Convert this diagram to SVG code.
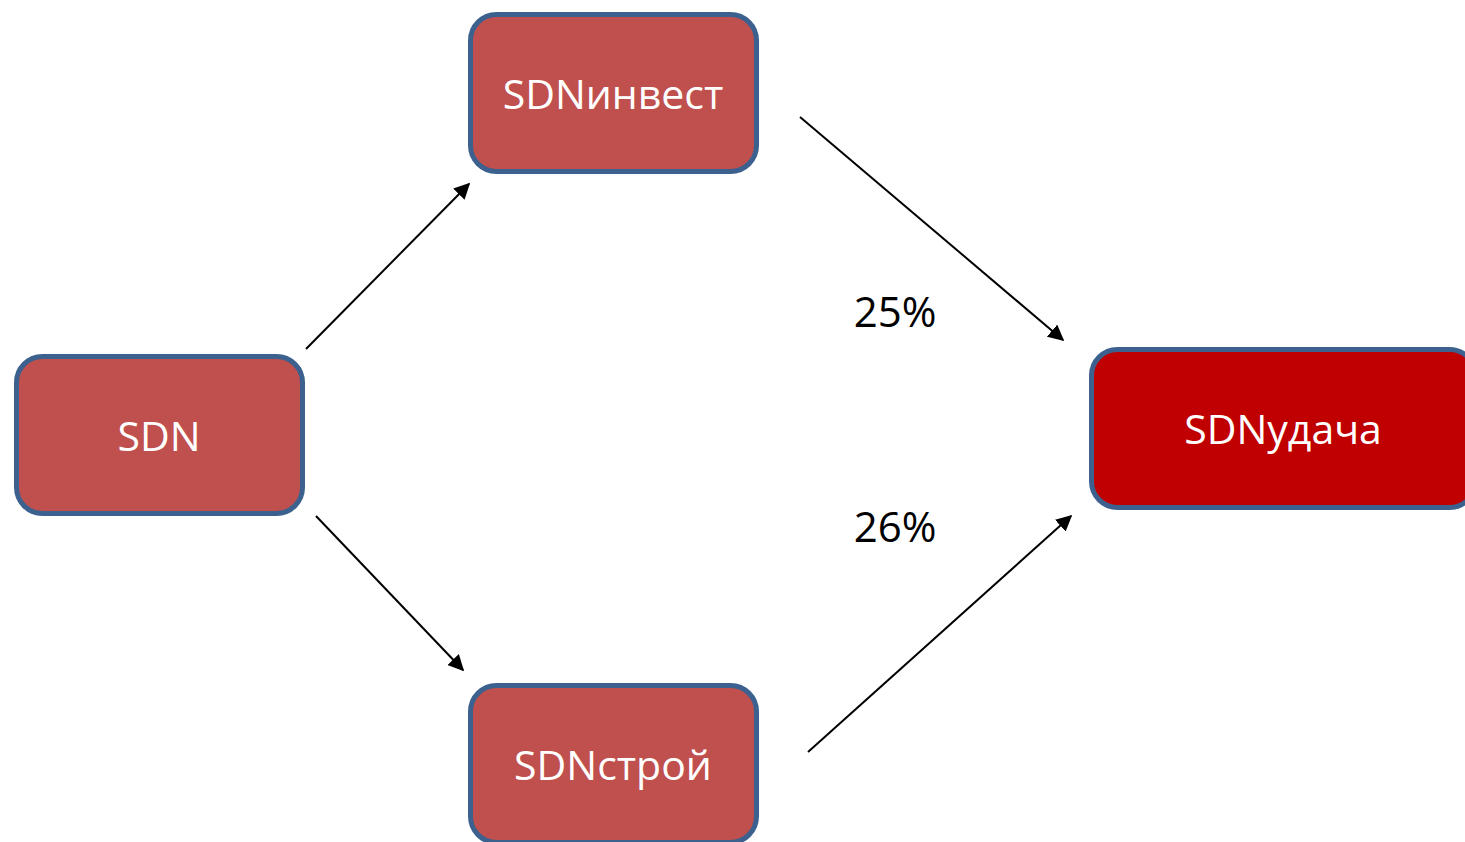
<svg xmlns="http://www.w3.org/2000/svg" width="1465" height="842" viewBox="0 0 1465 842">
<style>
.box{fill:#c0504d;stroke:#3d618e;stroke-width:5}
.dark{fill:#c00000}
.lbl{font-family:"Open Sans","Noto Sans",sans-serif;font-size:41px;fill:#ffffff;text-anchor:middle}
.pct{font-family:"Open Sans","Noto Sans",sans-serif;font-size:42px;fill:#000000;text-anchor:middle}
.edge{stroke:#000;stroke-width:2;fill:none;marker-end:url(#ah)}
</style>
<defs>
<marker id="ah" viewBox="0 0 10 10" refX="9" refY="5" markerWidth="8" markerHeight="8" markerUnits="strokeWidth" orient="auto">
<path d="M0,0 L10,5 L0,10 z" fill="#000"/>
</marker>
</defs>
<rect width="1465" height="842" fill="#fff"/>
<g id="connectors">
<line class="edge" x1="306" y1="349" x2="469" y2="184"/>
<line class="edge" x1="800" y1="117" x2="1063" y2="340"/>
<line class="edge" x1="316" y1="516" x2="463" y2="670"/>
<line class="edge" x1="808" y1="752" x2="1071" y2="516"/>
</g>
<g id="n-sdn">
<rect class="box" x="16.5" y="356.5" width="286" height="157" rx="26"/>
<text class="lbl" x="159" y="451">SDN</text>
</g>
<g id="n-invest">
<rect class="box" x="470.5" y="14.5" width="286" height="157" rx="26"/>
<text class="lbl" x="613" y="109">SDNинвест</text>
</g>
<g id="n-stroy">
<rect class="box" x="470.5" y="685.5" width="286" height="157" rx="26"/>
<text class="lbl" x="613" y="780">SDNстрой</text>
</g>
<g id="n-udacha">
<rect class="box dark" x="1091.5" y="349.5" width="384" height="158" rx="26"/>
<text class="lbl" x="1283" y="444">SDNудача</text>
</g>
<g id="labels">
<text class="pct" x="895" y="327">25%</text>
<text class="pct" x="895" y="542">26%</text>
</g>
</svg>
